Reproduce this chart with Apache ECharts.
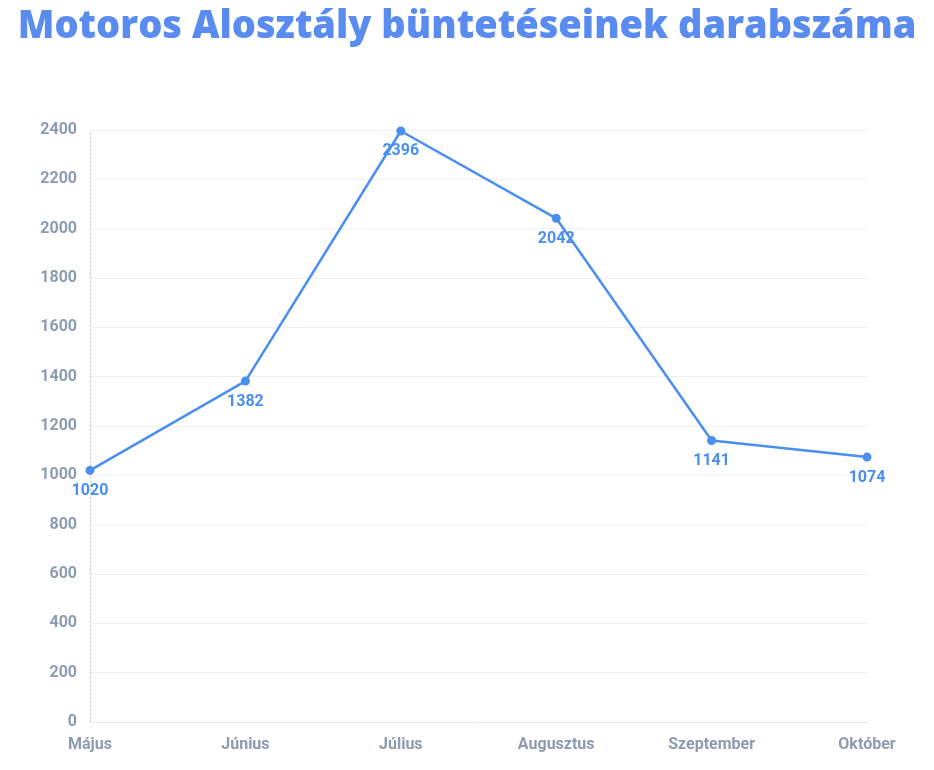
<!DOCTYPE html>
<html><head><meta charset="utf-8">
<script src="https://cdn.jsdelivr.net/npm/echarts@6/dist/echarts.min.js"></script>
<style>html,body{margin:0;padding:0;background:#fff}#c{width:934px;height:770px}</style>
</head><body><div id="c"></div>
<script>
const months = ['Május','Június','Július','Augusztus','Szeptember','Október'];
const values = [1020,1382,2396,2042,1141,1074];
const chart = echarts.init(document.getElementById('c'));
chart.setOption({
  animation:false,
  title:{text:'Motoros Alosztály büntetéseinek darabszáma',left:'center',top:3,
    textStyle:{fontFamily:'Open Sans',fontWeight:800,fontSize:38,color:'#5a8cf0'}},
  grid:{left:90,right:67,top:130,bottom:48},
  xAxis:{type:'category',data:months,boundaryGap:false,
    axisLine:{show:true,lineStyle:{color:'#e6ebf2'}},axisTick:{show:false},
    axisLabel:{fontFamily:'Roboto',fontWeight:'bold',fontSize:16,color:'#8d9bb0',margin:15},
    splitLine:{show:false}},
  yAxis:{type:'value',min:0,max:2400,interval:200,
    axisLine:{show:true,lineStyle:{color:'#a8b4c4',type:[1,3],width:1}},axisTick:{show:false},
    axisLabel:{fontFamily:'Roboto',fontWeight:'bold',fontSize:16,color:'#8d9bb0',margin:13,formatter:v=>String(v)},
    splitLine:{lineStyle:{color:'#eef1f6'}}},
  series:[{type:'line',data:values,symbol:'circle',symbolSize:9,
    lineStyle:{color:'#4a8ff0',width:2.5},itemStyle:{color:'#4a8ff0'},
    label:{show:true,position:'bottom',distance:8,fontFamily:'Roboto',fontWeight:'bold',fontSize:16,color:'#4a8ff0'}}]
});
</script></body></html>
